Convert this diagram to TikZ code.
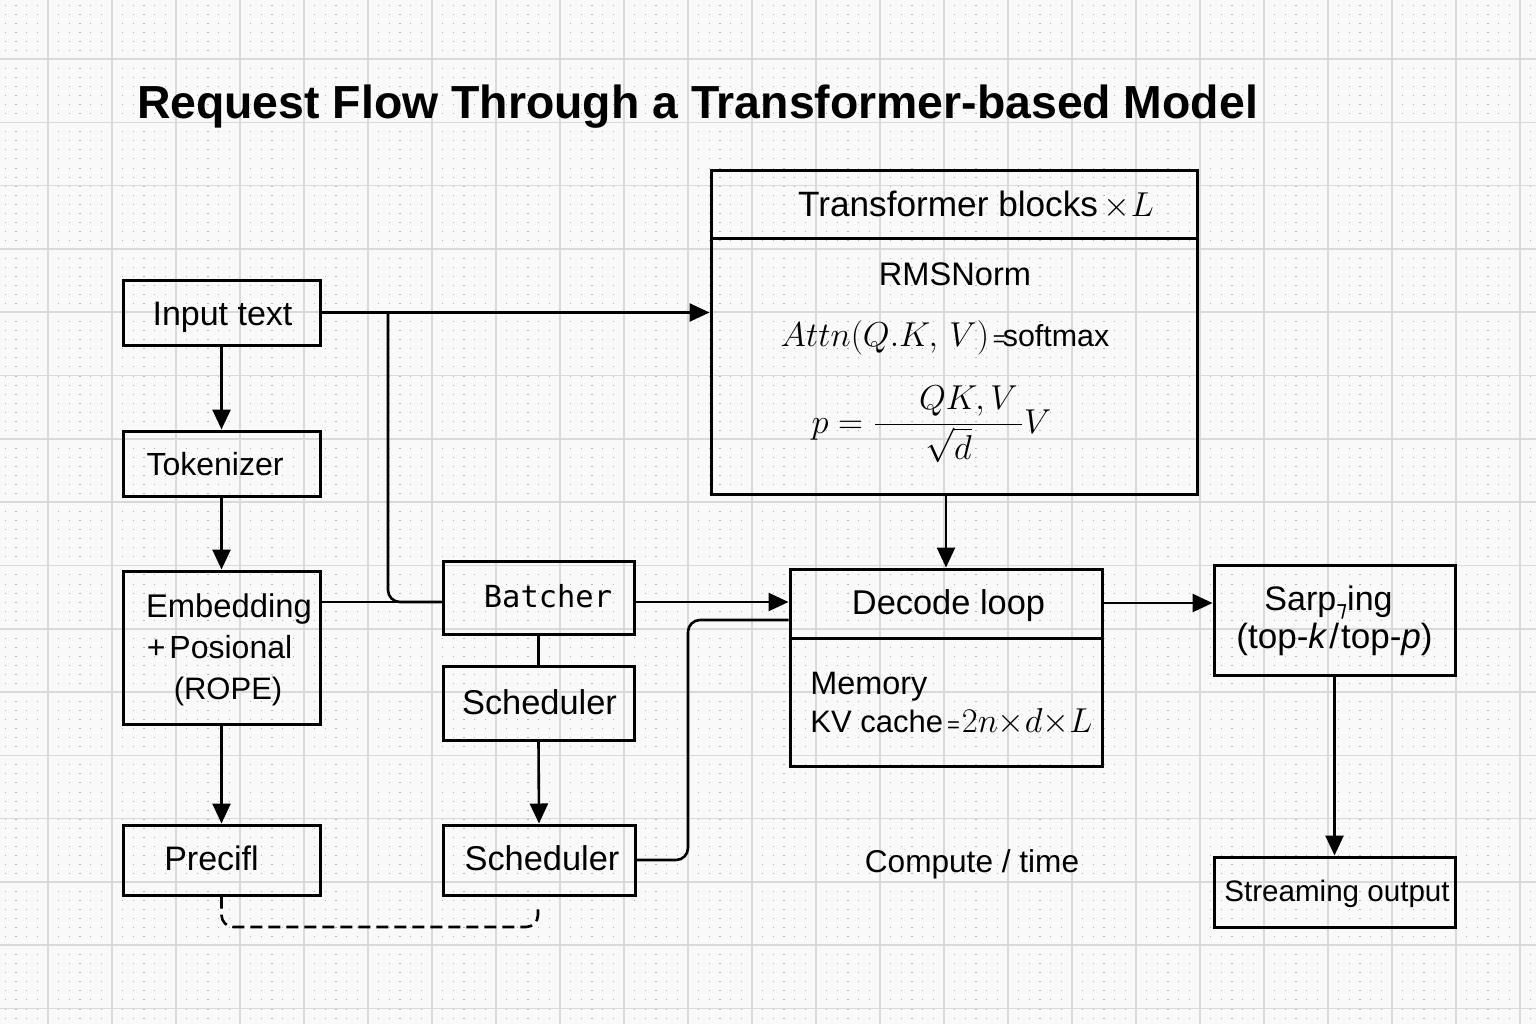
\documentclass[tikz,border=0pt]{standalone}
\usepackage[no-math]{fontspec}
\usepackage{graphicx}
\setmainfont{Liberation Sans}
\newfontfamily\monofnt{DejaVu Sans Mono}
\newfontfamily\djv{DejaVu Sans}
\usetikzlibrary{arrows.meta,fit,calc}
\newcommand{\fs}[1]{\fontsize{#1}{#1}\selectfont}
\begin{document}
\begin{tikzpicture}[x=0.5pt,y=-0.5pt,
  gridline/.style={draw=black!15, line width=0.8pt},
  dotline/.style={draw=black!30, line width=0.6pt, dash pattern=on 0.5pt off 4.0215pt},
  boxs/.style={draw=black, line width=1.5pt, inner sep=0pt},
  conn/.style={draw=black, line width=1.3pt},
  arr/.style={conn, -{Triangle[length=10pt,width=9pt]}},
  lbl/.style={anchor=base, inner sep=0pt, font=\fs{16}},
  lblw/.style={anchor=base west, inner sep=0pt, font=\fs{16}}]
% background and grid
\fill[black!2.5] (0,0) rectangle (1536,1024);
\useasboundingbox (0,0) rectangle (1536,1024);
\begin{scope}
\clip (0,0) rectangle (1536,1024);
\foreach \k in {-4,...,144} \draw[dotline] ({48+64/6*\k},-4.3) -- ({48+64/6*\k},1030);
\foreach \i in {0,...,23} \draw[gridline] ({48+64*\i},0) -- ({48+64*\i},1024);
\foreach \j in {0,...,15} \draw[gridline] (0,{59+63.3*\j}) -- (1536,{59+63.3*\j});
\end{scope}
% title
\node[anchor=base, inner sep=0pt] (title) at (697.5,118) {\resizebox{560.5pt}{!}{\fs{24}\bfseries Request Flow Through a Transformer-based Model}};
% boxes
\node[boxs, fit={(123,280) (320,345)}] (inp) {};
\node[boxs, fit={(123,431) (320,496)}] (tok) {};
\node[boxs, fit={(123,571) (320,724)}] (emb) {};
\node[boxs, fit={(123,825) (320,895)}] (pre) {};
\node[boxs, fit={(443,561) (634,634)}] (bat) {};
\node[boxs, fit={(443,666) (634,740)}] (sch1) {};
\node[boxs, fit={(443,825) (635,895)}] (sch2) {};
\node[boxs, fit={(711,170) (1197,494)}] (tr) {};
\node[boxs, fit={(790,569) (1102,766)}] (dec) {};
\node[boxs, fit={(1214,565) (1455,675)}] (samp) {};
\node[boxs, fit={(1214,857) (1455,927)}] (str) {};
\coordinate (trdiv) at (711,238);
\draw[line width=1.5pt] (trdiv) -- (trdiv -| tr.east);
\coordinate (ddiv) at (790,638);
\draw[line width=1.5pt] (ddiv) -- (ddiv -| dec.east);
% labels
\node[lbl, font=\fs{17}] (inpT) at (222.5,325) {Input text};
\node[lbl, font=\fs{16}] (tokT) at (215,475) {Tokenizer};
\node[lbl, font=\fs{16.4}] (embT1) at (229,617) {Embedding};
\node[lbl, font=\fs{16}] (embT2) at (219.5,658) {+\kern2pt Posional};
\node[lbl, font=\fs{15.5}] (embT3) at (228,699) {(ROPE)};
\node[lbl, font=\fs{17}] (preT) at (211.5,870) {Precifl};
\node[lbl, font=\monofnt\fs{15.2}] (batT) at (548,607) {Batcher};
\node[lbl, font=\fs{17.2}] (sch1T) at (539.5,714) {Scheduler};
\node[lbl, font=\fs{17.2}] (sch2T) at (542,870) {Scheduler};
\node[lbl, font=\fs{17.6}] (trT) at (976,216) {Transformer blocks\,{\fs{18}$\times L$}};
\node[lbl, font=\fs{16.3}] (rmsT) at (955,285) {RMSNorm};
\node[lbl, font=\fs{15.2}] (attT) at (945,346) {{\fs{18}$Attn(Q.K,\,V)$}\kern2pt{\fs{11}=}\kern-1.5pt softmax};
\node[lbl] (pT) at (931.5,433) {\fs{19}$\displaystyle p=\frac{\hspace{22pt}QK,V\hspace{2pt}}{\sqrt{d}}V$};
\node[lbl, font=\fs{17.2}] (decT) at (948.5,614) {Decode loop};
\node[lblw, font=\fs{16.2}] (memT) at (810,694) {Memory};
\node[lblw, font=\fs{15.5}] (kvT) at (810,732) {KV cache\kern2pt{\fs{11}=}\kern1pt{\fs{17}$2n{\times}d{\times}L$}};
\node[lbl, font=\fs{17}] (sampT1) at (1328.5,610) {Sarp{\djv\fs{11}\raisebox{-3pt}{⁊}}ing};
\node[lbl, font=\fs{17.5}] (sampT2) at (1334.5,648) {(top-\textit{k}\kern1pt/\kern1pt top-\textit{p})};
\node[lbl, font=\fs{15.8}] (compT) at (972,872) {Compute / time};
\node[lbl, font=\fs{14.8}] (strT) at (1337,901) {Streaming output};
% connectors
\coordinate (br) at (388,312.5);
\coordinate (h602) at (0,602);
\coordinate (h603) at (0,603);
\coordinate (c688) at (688,620);
\coordinate (dcor) at (538,927);
\coordinate (dend) at (538,905);
\draw[arr] (inp.east) -- (inp.east -| tr.west);
\draw[conn] (emb.east |- h602) -- (bat.west |- h602);
\draw[conn, rounded corners=6pt] (br) |- (bat.west |- h602);
\draw[arr] (inp.south) -- (tok.north);
\draw[arr] (tok.south) -- (emb.north);
\draw[arr] (emb.south) -- (pre.north);
\draw[arr] (bat.east |- h602) -- (dec.west |- h602);
\draw[conn] (bat.south) -- (sch1.north);
\draw[arr] (sch1.south) -- (sch2.north);
\draw[conn, rounded corners=6pt] (sch2.east) -| (c688) -- (dec.west |- c688);
\draw[arr] (dec.north |- tr.south) -- (dec.north);
\draw[arr] (dec.east |- h603) -- (samp.west |- h603);
\draw[arr] (samp.south) -- (str.north);
\draw[conn, dash pattern=on 6pt off 3pt, rounded corners=6pt] (pre.south) |- (dcor) -- (dend);
\end{tikzpicture}
\end{document}
